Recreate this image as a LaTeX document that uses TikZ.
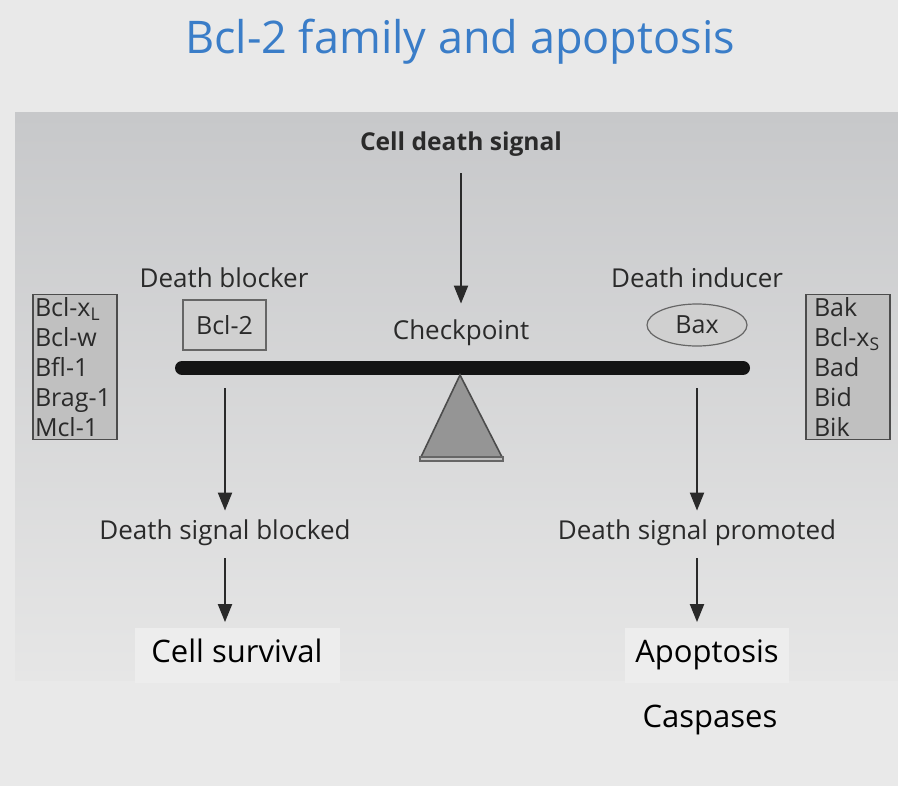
\documentclass[tikz,border=0pt]{standalone}
\usepackage{fontspec}
\setmainfont{Open Sans}
\usetikzlibrary{arrows.meta,positioning,shapes.geometric}
\definecolor{titleblue}{HTML}{3A7DC8}
\definecolor{pagegrey}{HTML}{E9E9E9}
\definecolor{paneltop}{HTML}{C7C8CA}
\definecolor{panelbot}{HTML}{E6E6E6}
\definecolor{listgrey}{HTML}{C0C0C0}
\definecolor{boxgrey}{HTML}{D0D0D0}
\definecolor{wedgegrey}{HTML}{959595}
\definecolor{inkgrey}{HTML}{2A2A2A}
\definecolor{outfill}{HTML}{EDEDED}

\begin{document}
\begin{tikzpicture}[x=0.5pt, y=-0.5pt,
  lab/.style={font=\fontsize{13}{15}\selectfont, text=inkgrey,
    text height=9pt, text depth=3pt, inner sep=2pt},
  listbox/.style={draw=black!70, fill=listgrey, align=left, line width=0.6pt,
    font=\fontsize{12.5}{15}\selectfont, text=inkgrey, text width=40pt,
    inner xsep=1pt, inner ysep=1.5pt},
  outcome/.style={font=\fontsize{15.5}{18}\selectfont, fill=outfill,
    text height=11pt, text depth=3.5pt, minimum height=27.5pt},
  arr/.style={-{Triangle[length=9pt,width=7pt]}, line width=1pt, inkgrey}
]
\useasboundingbox (0,0) rectangle (898,786);
\fill[pagegrey] (0,0) rectangle (898,786);
\fill[top color=paneltop, bottom color=panelbot] (15,113) rectangle (898,680);

% title
\node[font=\fontsize{22.5}{26}\selectfont, text=titleblue] (title) at (460,42)
  {Bcl-2 family and apoptosis};

% balance
\node[lab, font=\bfseries\fontsize{12.3}{14}\selectfont] (signal) at (461,145)
  {Cell death signal};
\node[lab] (checkpoint) at (461,333) {Checkpoint};
\draw[line width=7pt, line cap=round, black!92] (182,368) -- (743,368);
\filldraw[fill=wedgegrey, draw=black!70, line width=0.8pt]
  (460,375) -- (502,457) -- (421,457) -- cycle;
\filldraw[fill=black!25, draw=black!60, line width=0.6pt]
  (420,457) rectangle (503,461);
\coordinate (lhang) at (225,388);
\coordinate (rhang) at (697,388);

% blocker side
\node[lab] (blocker) at (224,281) {Death blocker};
\node[draw=black!60, fill=boxgrey, line width=0.6pt, minimum width=41.5pt,
  minimum height=25pt, font=\fontsize{12.5}{14}\selectfont, text=inkgrey]
  (bcl2) at (224.5,325) {Bcl-2};
\node[listbox] (leftlist) at (75,367)
  {Bcl-x\textsubscript{L}\\Bcl-w\\Bfl-1\\\mbox{Brag-1}\\Mcl-1};

% inducer side
\node[lab] (inducer) at (697,281) {Death inducer};
\node[ellipse, draw=black!60, fill=boxgrey, line width=0.6pt,
  minimum width=50pt, minimum height=21pt, inner sep=0pt,
  font=\fontsize{12.5}{14}\selectfont, text=inkgrey] (bax) at (697,325) {Bax};
\node[listbox, text width=34pt, inner xsep=4pt]
  (rightlist) at (848,367)
  {Bak\\Bcl-x\textsubscript{S}\\Bad\\Bid\\Bik};

% outcomes
\node[lab] (blocked) at (225,533) {Death signal blocked};
\node[lab] (promoted) at (697,533) {Death signal promoted};
\node[outcome, minimum width=102.5pt] (survival) at (237,655) {Cell survival};
\node[outcome, minimum width=82pt] (apoptosis) at (707,655) {Apoptosis};
\node[font=\fontsize{15.5}{18}\selectfont] (caspases) at (710,720) {Caspases};

\draw[arr, shorten <=6pt, shorten >=6.5pt] (signal) -- (checkpoint);
\draw[arr, shorten >=3pt] (lhang) -- (blocked);
\draw[arr, shorten >=3pt] (rhang) -- (promoted);
\draw[arr, shorten <=4.5pt, shorten >=2.5pt] (blocked) -- (blocked |- survival.north);
\draw[arr, shorten <=4.5pt, shorten >=2.5pt] (promoted) -- (promoted |- apoptosis.north);
\end{tikzpicture}
\end{document}
